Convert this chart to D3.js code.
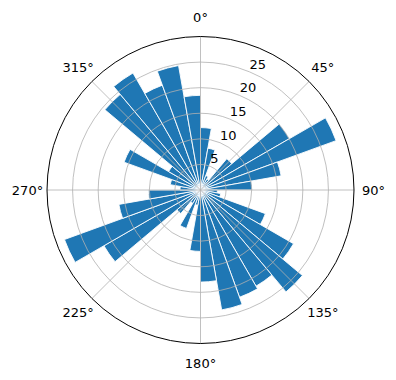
<!DOCTYPE html>
<html>
<head>
<meta charset="utf-8">
<script src="https://cdn.jsdelivr.net/npm/d3@7"></script>
<style>
  body { margin: 0; background: #fff; }
  svg { display: block; font-family: "DejaVu Sans", sans-serif; }
</style>
</head>
<body>
<script>
// bin start angles (degrees, clockwise from north), one bar per 10 degrees
const binStarts = d3.range(0, 360, 10);
const counts = [12.2, 8.3, 3, 2.5, 8, 20.1, 28.2, 16, 10.1,
                3.3, 4, 13.5, 21, 26, 21.7, 22.3, 23.8, 18,
                12, 3, 8, 3, 6, 21.8, 28.3, 16.2, 10.2,
                4, 6, 15.9, 7.2, 24.4, 26.4, 21.8, 24.7, 18.5];
const rTicks = [5, 10, 15, 20, 25];
const thetaTicks = [0, 45, 90, 135, 180, 225, 270, 315];
const thetaLabels = thetaTicks.map(d => d + "°");

const W = 396, H = 380;
const cx = 200.5, cy = 190, R = 153.5;

const svg = d3.select("body").append("svg")
  .attr("width", W).attr("height", H);

const r = d3.scaleLinear().domain([0, 30]).range([0, R]);
const ang = d3.scaleLinear().domain([0, 360]).range([0, 2 * Math.PI]);

const g = svg.append("g").attr("transform", `translate(${cx},${cy})`);

// bars
const arc = d3.arc()
  .innerRadius(0)
  .outerRadius(d => r(d.v))
  .startAngle(d => ang(d.a))
  .endAngle(d => ang(d.a + 10));

g.selectAll("path.bar")
  .data(binStarts.map((a, i) => ({a: a, v: counts[i]})))
  .join("path")
  .attr("class", "bar")
  .attr("d", arc)
  .attr("fill", "#1f77b4")
  .attr("stroke", "#fff")
  .attr("stroke-width", 0.9);

// grid (drawn on top of the bars)
g.selectAll("circle.grid")
  .data(rTicks)
  .join("circle")
  .attr("r", d => r(d))
  .attr("fill", "none")
  .attr("stroke", "#b0b0b0")
  .attr("stroke-width", 0.8);

g.selectAll("line.grid")
  .data(thetaTicks)
  .join("line")
  .attr("x1", 0).attr("y1", 0)
  .attr("x2", d => R * Math.sin(ang(d)))
  .attr("y2", d => -R * Math.cos(ang(d)))
  .attr("stroke", "#b0b0b0")
  .attr("stroke-width", 0.8);

// outer spine
g.append("circle")
  .attr("r", R)
  .attr("fill", "none")
  .attr("stroke", "#000")
  .attr("stroke-width", 1);

// theta labels
g.selectAll("text.theta")
  .data(thetaTicks)
  .join("text")
  .attr("x", d => 173 * Math.sin(ang(d)))
  .attr("y", d => -173 * Math.cos(ang(d)))
  .attr("text-anchor", "middle")
  .attr("dominant-baseline", "central")
  .attr("font-size", 13)
  .text((d, i) => thetaLabels[i]);

// radial labels along 22.5 degrees
const rl = ang(22.5);
g.selectAll("text.rlab")
  .data(rTicks)
  .join("text")
  .attr("x", d => r(d) * Math.sin(rl))
  .attr("y", d => -r(d) * Math.cos(rl) - 3)
  .attr("text-anchor", "start")
  .attr("font-size", 13)
  .text(d => d);
</script>
</body>
</html>
